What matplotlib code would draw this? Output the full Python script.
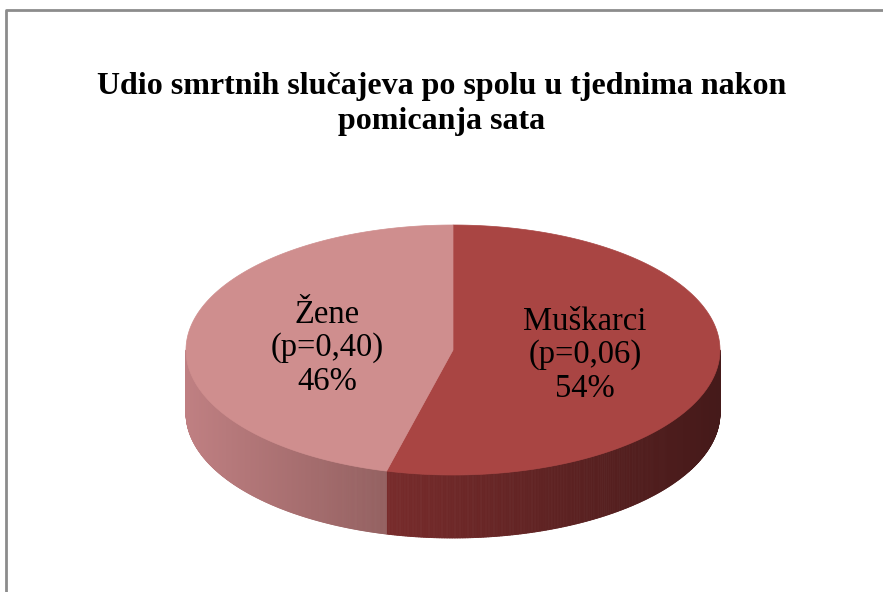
import numpy as np
import matplotlib
matplotlib.use("Agg")
import matplotlib.pyplot as plt
from matplotlib.patches import Polygon
from matplotlib.collections import PolyCollection

# data
labels = ["Muškarci", "Žene"]
p_values = ["0,06", "0,40"]
shares = [54, 46]

top_colors = ["#A94543", "#CF8E8E"]
side_left = [(0.47, 0.17, 0.17), (0.75, 0.50, 0.51)]
side_right = [(0.27, 0.10, 0.10), (0.58, 0.38, 0.38)]

W, H = 883, 592
fig = plt.figure(figsize=(W / 100, H / 100), dpi=100)
ax = fig.add_axes([0, 0, 1, 1])
ax.set_xlim(0, W)
ax.set_ylim(H, 0)
ax.axis("off")

# frame (left + top only visible)
ax.plot([5.5, 5.5, W + 5], [H + 5, 10, 10], color="#8c8c8c", lw=2, solid_capstyle="butt")

cx, cy, a, b, depth = 453, 350, 267, 125, 63


def pt(theta):
    # theta: degrees clockwise from 12 o'clock
    t = np.radians(theta)
    return cx + a * np.sin(t), cy - b * np.cos(t)


total = sum(shares)
bounds = np.concatenate([[0], np.cumsum(shares) / total * 360])
seam_x = pt(bounds[1])[0]

# side walls (front half only: 90..270)
for i in range(len(shares)):
    t0, t1 = max(bounds[i], 90), min(bounds[i + 1], 270)
    if t1 <= t0:
        continue
    ts = np.linspace(t0, t1, 300)
    polys, cols = [], []
    for k in range(len(ts) - 1):
        x0, y0 = pt(ts[k])
        x1, y1 = pt(ts[k + 1])
        polys.append([(x0, y0), (x1, y1), (x1, y1 + depth), (x0, y0 + depth)])
        xm = (x0 + x1) / 2
        if i == 1:
            f = (xm - (cx - a)) / (seam_x - (cx - a))
        else:
            f = (xm - seam_x) / ((cx + a) - seam_x)
        c = np.array(side_left[i]) * (1 - f) + np.array(side_right[i]) * f
        cols.append(c)
    ax.add_collection(PolyCollection(polys, facecolors=cols, edgecolors=cols, linewidths=0.6))

# top face
for i in range(len(shares)):
    ts = np.linspace(bounds[i], bounds[i + 1], 200)
    verts = [(cx, cy)] + [pt(t) for t in ts]
    ax.add_patch(Polygon(verts, closed=True, facecolor=top_colors[i],
                         edgecolor=top_colors[i], lw=0.5))

label_pos = [(585, 355), (327, 348)]
for i in range(len(shares)):
    ax.text(label_pos[i][0], label_pos[i][1],
            f"{labels[i]}\n(p={p_values[i]})\n{shares[i]}%",
            ha="center", va="center", fontsize=23.5, linespacing=1.12,
            family="Liberation Serif", color="black")

ax.text(442, 104, "Udio smrtnih slučajeva po spolu u tjednima nakon\npomicanja sata",
        ha="center", va="center", fontsize=23, fontweight="bold",
        family="Liberation Serif", linespacing=1.25)

fig.savefig("out.png", dpi=100)
